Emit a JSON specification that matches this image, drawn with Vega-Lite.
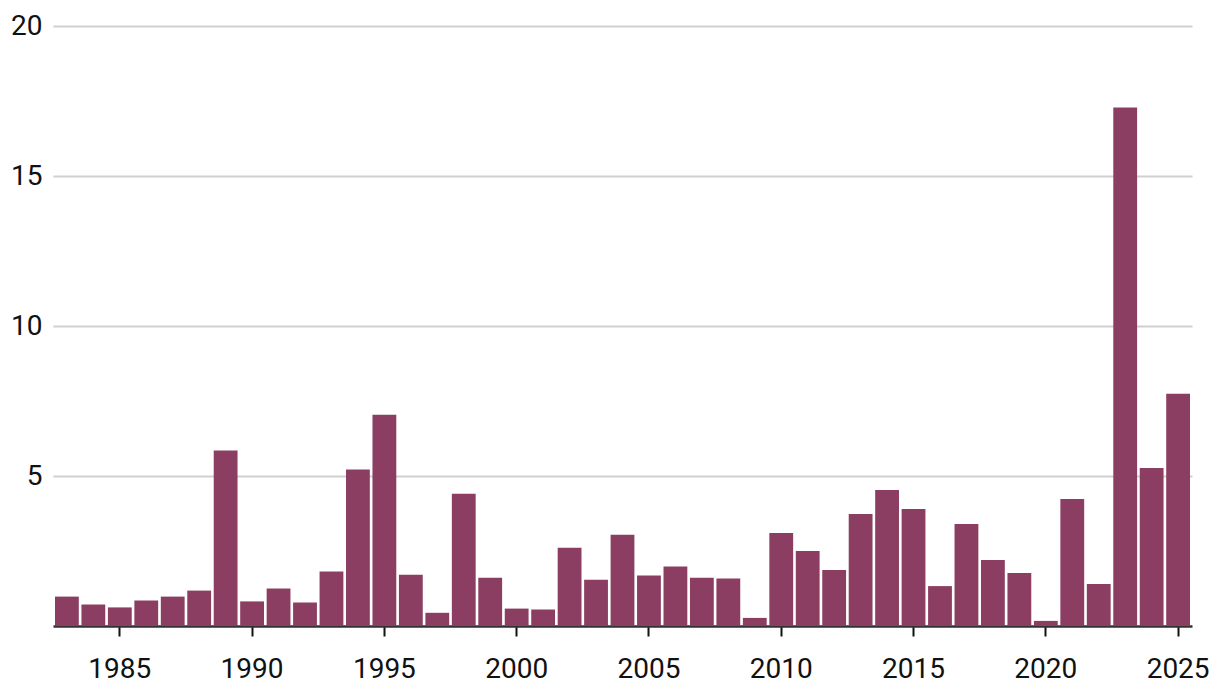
{
  "$schema": "https://vega.github.io/schema/vega-lite/v6.json",
  "width": 1139,
  "height": 600,
  "autosize": {"type": "none"},
  "padding": {"left": 53, "top": 26, "right": 28, "bottom": 72},
  "background": "white",
  "config": {"view": {"stroke": null}, "font": "Roboto"},
  "data": {
    "values": [
      {"year": 1983, "value": 0.98},
      {"year": 1984, "value": 0.72},
      {"year": 1985, "value": 0.62},
      {"year": 1986, "value": 0.85},
      {"year": 1987, "value": 0.98},
      {"year": 1988, "value": 1.18},
      {"year": 1989, "value": 5.85},
      {"year": 1990, "value": 0.82},
      {"year": 1991, "value": 1.25},
      {"year": 1992, "value": 0.78},
      {"year": 1993, "value": 1.82},
      {"year": 1994, "value": 5.22},
      {"year": 1995, "value": 7.04},
      {"year": 1996, "value": 1.71},
      {"year": 1997, "value": 0.44},
      {"year": 1998, "value": 4.41},
      {"year": 1999, "value": 1.61},
      {"year": 2000, "value": 0.58},
      {"year": 2001, "value": 0.55},
      {"year": 2002, "value": 2.61},
      {"year": 2003, "value": 1.54},
      {"year": 2004, "value": 3.04},
      {"year": 2005, "value": 1.68},
      {"year": 2006, "value": 1.98},
      {"year": 2007, "value": 1.61},
      {"year": 2008, "value": 1.58},
      {"year": 2009, "value": 0.27},
      {"year": 2010, "value": 3.1},
      {"year": 2011, "value": 2.5},
      {"year": 2012, "value": 1.87},
      {"year": 2013, "value": 3.73},
      {"year": 2014, "value": 4.53},
      {"year": 2015, "value": 3.9},
      {"year": 2016, "value": 1.33},
      {"year": 2017, "value": 3.4},
      {"year": 2018, "value": 2.2},
      {"year": 2019, "value": 1.77},
      {"year": 2020, "value": 0.17},
      {"year": 2021, "value": 4.23},
      {"year": 2022, "value": 1.4},
      {"year": 2023, "value": 17.28},
      {"year": 2024, "value": 5.27},
      {"year": 2025, "value": 7.74}
    ]
  },
  "mark": {"type": "bar", "color": "#8b3e62"},
  "encoding": {
    "x": {
      "field": "year",
      "type": "ordinal",
      "scale": {"paddingInner": 0.1, "paddingOuter": 0.075},
      "axis": {
        "values": [1985, 1990, 1995, 2000, 2005, 2010, 2015, 2020, 2025],
        "title": null,
        "labelAngle": 0,
        "tickSize": 10,
        "tickWidth": 2,
        "tickColor": "#111111",
        "domainColor": "#333333",
        "domainWidth": 2.5,
        "labelFontSize": 28,
        "labelPadding": 19,
        "labelColor": "#111111"
      }
    },
    "y": {
      "field": "value",
      "type": "quantitative",
      "scale": {"domain": [0, 20]},
      "axis": {
        "values": [5, 10, 15, 20],
        "title": null,
        "domain": false,
        "ticks": false,
        "grid": true,
        "gridColor": "#d0d0d0",
        "gridWidth": 2,
        "labelFontSize": 28,
        "labelPadding": 11,
        "labelColor": "#111111",
        "labelBaseline": "middle"
      }
    }
  }
}
